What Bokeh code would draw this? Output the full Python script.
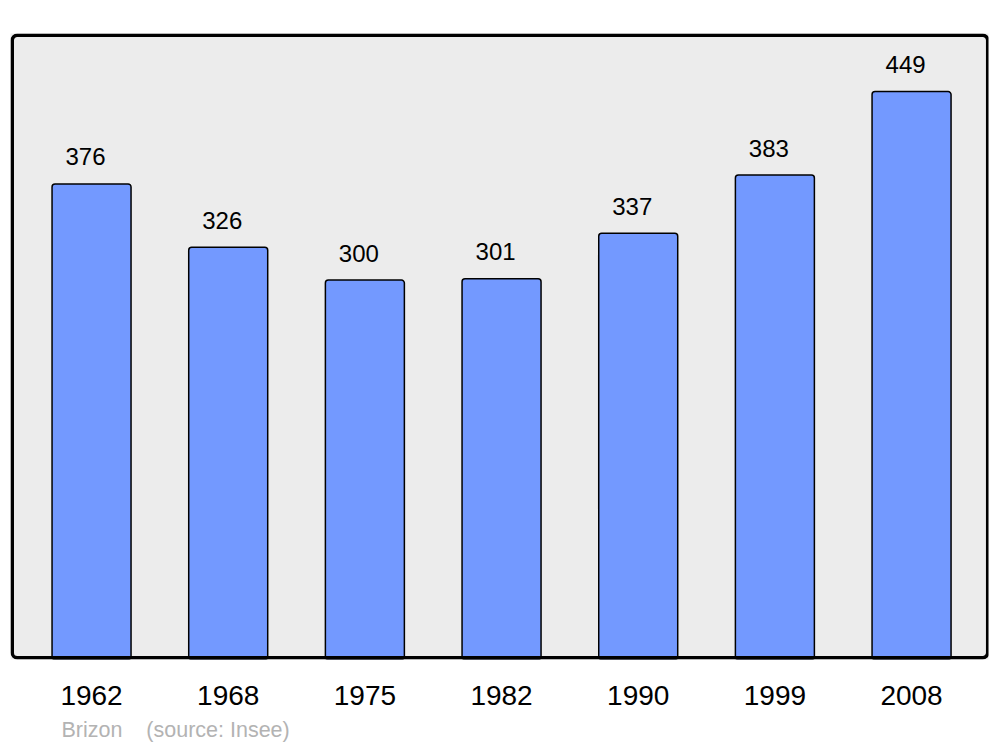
from bokeh.plotting import figure
from bokeh.models import Range1d, FixedTicker, ColumnDataSource, BoxAnnotation, Title
from bokeh.core.properties import value
from bokeh.embed import file_html
from bokeh.resources import INLINE

years = ["1962", "1968", "1975", "1982", "1990", "1999", "2008"]
population = [376, 326, 300, 301, 337, 383, 449]
place = "Brizon"
source_note = "(source: Insee)"

xs = list(range(len(years)))
src = ColumnDataSource(dict(x=xs, top=population, label=[str(v) for v in population]))

FW, FH = 978, 626
X0, X1, Y0, Y1 = -0.593, 6.563, 0, 494.9

p = figure(frame_width=FW, frame_height=FH, output_backend="svg", toolbar_location=None,
           x_range=Range1d(X0, X1), y_range=Range1d(Y0, Y1),
           min_border_left=10, min_border_right=3, min_border_top=33, min_border_bottom=2)
p.background_fill_color = "#ececec"
p.border_fill_color = "white"
p.outline_line_color = None
p.grid.visible = False
p.yaxis.visible = False

p.vbar(x="x", top="top", bottom=0, width=0.578, source=src,
       fill_color="#7399ff", line_color="black", line_width=1.5, border_radius=3)

p.text(x="x", y="top", text="label", source=src, x_offset=-6, y_offset=-27,
       text_align="center", text_baseline="alphabetic",
       text_font=value("Liberation Sans"), text_font_size="24px", text_color="black")

ax = p.xaxis[0]
ax.ticker = FixedTicker(ticks=xs)
ax.major_label_overrides = {i: y for i, y in enumerate(years)}
ax.axis_line_color = None
ax.major_tick_line_color = None
ax.minor_tick_line_color = None
ax.major_label_standoff = 20
ax.major_label_text_font = "Liberation Sans"
ax.major_label_text_font_size = "28px"
ax.major_label_text_color = "black"

# rounded frame border, inset so the whole stroke is visible
px = (X1 - X0) / FW
py = (Y1 - Y0) / FH
inset = 1.75
frame = BoxAnnotation(left=X0 + inset * px, right=X1 - 0.8 * px,
                      bottom=Y0 + inset * py, top=Y1 - inset * py,
                      fill_color=None, line_color="black", line_alpha=1.0, line_width=3.5,
                      border_radius=5, level="overlay")
p.add_layout(frame)

footer = Title(text=place + "\u00a0\u00a0\u00a0\u00a0" + source_note, align="left",
               offset=51, text_font="Liberation Sans", text_font_size="21.5px",
               text_font_style="normal", text_color="#b3b3b3", standoff=16)
p.add_layout(footer, "below")

open("out.html", "w").write(file_html(p, INLINE))
